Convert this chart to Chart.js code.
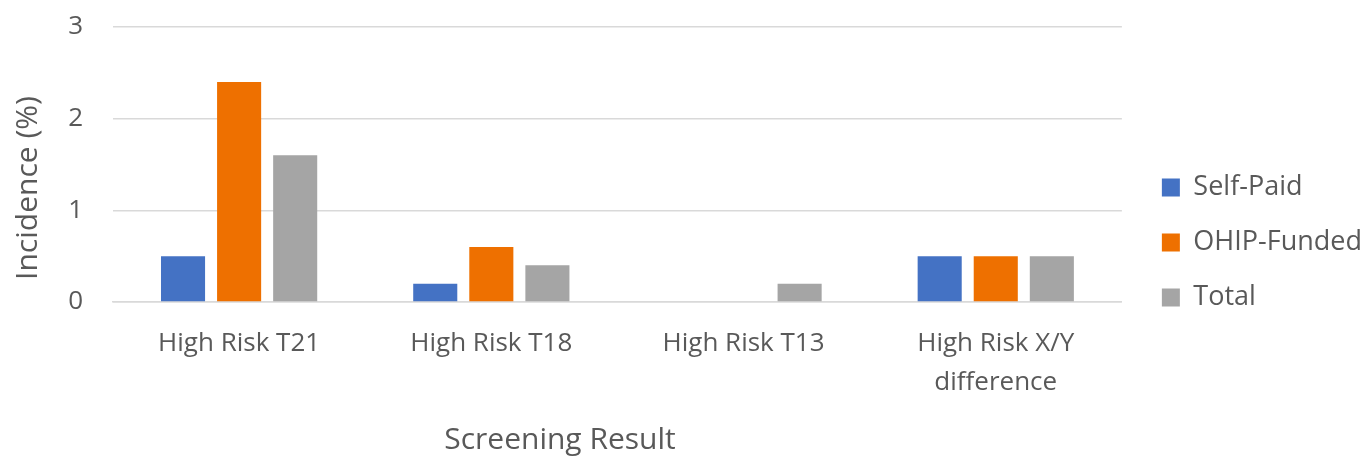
<!DOCTYPE html>
<html>
<head>
<meta charset="utf-8">
<script src="https://cdn.jsdelivr.net/npm/chart.js@4"></script>
<style>
  html, body { margin: 0; padding: 0; background: #fff; }
  #wrap { width: 1366px; height: 457px; }
</style>
</head>
<body>
<div id="wrap"><canvas id="myChart"></canvas></div>
<script>
const categories = ['High Risk T21', 'High Risk T18', 'High Risk T13', ['High Risk X/Y', 'difference']]
const selfPaid = [0.5, 0.2, 0, 0.5]
const ohipFunded = [2.4, 0.6, 0, 0.5]
const total = [1.6, 0.4, 0.2, 0.5]
const yTicks = [0, 1, 2, 3]
const xTitle = 'Screening Result'
const yTitle = 'Incidence (%)'

const textColor = '#595959'
const fontFamily = '"Open Sans", "Noto Sans", sans-serif'

// axis titles sit off-centre, so they are drawn by hand after the chart
const axisTitles = {
    id: 'axisTitles',
    afterDraw(chart) {
        const c = chart.ctx
        c.save()
        c.fillStyle = textColor
        c.font = '30px ' + fontFamily
        c.textAlign = 'center'
        c.textBaseline = 'middle'
        c.fillText(xTitle, 560, 440)
        c.translate(28, 188)
        c.rotate(-Math.PI / 2)
        c.fillText(yTitle, 0, 0)
        c.restore()
    }
}

// push the legend box a bit right and down from where the layout puts it
const legendNudge = {
    id: 'legendNudge',
    afterLayout(chart) {
        const lg = chart.legend
        lg.left += 12
        lg.right += 12
        lg.top += 14
        lg.bottom += 14
    }
}

const ctx = document.getElementById('myChart').getContext('2d')
const myChart = new Chart(ctx, {
    type: 'bar',
    data: {
        labels: categories,
        datasets: [{
            label: 'Self-Paid',
            data: selfPaid,
            backgroundColor: '#4472C4'
        }, {
            label: 'OHIP-Funded',
            data: ohipFunded,
            backgroundColor: '#EE7000'
        }, {
            label: 'Total',
            data: total,
            backgroundColor: '#A5A5A5'
        }]
    },
    plugins: [axisTitles, legendNudge],
    options: {
        responsive: true,
        maintainAspectRatio: false,
        animation: false,
        datasets: {
            bar: { categoryPercentage: 0.667, barPercentage: 0.786 }
        },
        layout: { padding: { top: 0, right: 6, left: 0, bottom: 0 } },
        plugins: {
            tooltip: { enabled: false },
            legend: {
                position: 'right',
                labels: {
                    color: textColor,
                    font: { family: fontFamily, size: 27 },
                    boxWidth: 18,
                    boxHeight: 18,
                    padding: 28
                }
            }
        },
        scales: {
            x: {
                afterFit: axis => { axis.height = 155 },
                grid: { display: false, drawTicks: false },
                border: { color: '#D9D9D9', width: 1.5 },
                ticks: {
                    color: textColor,
                    font: { family: fontFamily, size: 26, lineHeight: 1.5 },
                    padding: 22,
                    maxRotation: 0,
                    autoSkip: false
                }
            },
            y: {
                min: 0,
                max: 3,
                afterBuildTicks: axis => { axis.ticks = yTicks.map(v => ({ value: v })) },
                afterFit: axis => {
                    axis.width = 113
                    axis.paddingTop = 27
                    axis.paddingBottom = 0
                },
                grid: { color: '#D9D9D9', lineWidth: 1.5, drawTicks: false },
                border: { display: false },
                ticks: {
                    color: textColor,
                    font: { family: fontFamily, size: 26 },
                    padding: 30
                }
            }
        }
    }
})
</script>
</body>
</html>
